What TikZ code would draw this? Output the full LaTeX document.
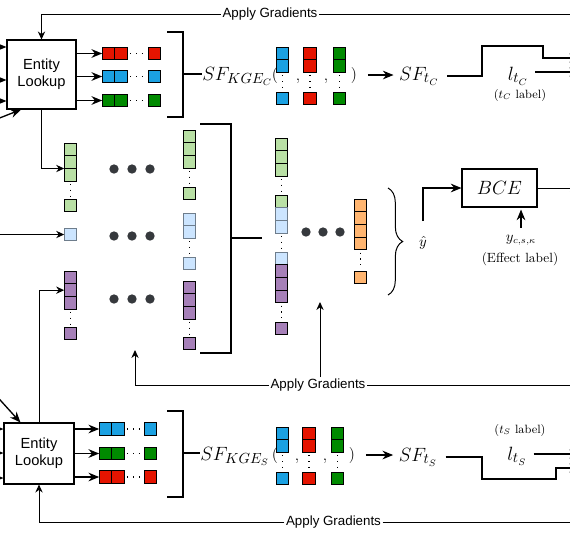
\documentclass[tikz,border=0pt]{standalone}
\usepackage{fontspec}
\newfontfamily\drawfont{Liberation Sans}
\usetikzlibrary{arrows.meta,positioning,decorations.pathreplacing}

\definecolor{kgred}{RGB}{229,20,0}
\definecolor{kgblue}{RGB}{27,161,226}
\definecolor{kggreen}{RGB}{0,138,0}
\definecolor{embgreen}{RGB}{185,224,165}
\definecolor{embblue}{RGB}{204,229,255}
\definecolor{embblueline}{RGB}{110,125,140}
\definecolor{embpurple}{RGB}{166,128,184}
\definecolor{outorange}{RGB}{255,181,112}
\definecolor{balldark}{RGB}{54,57,61}

\tikzset{
  cell/.style={draw=black, line width=0.8pt, inner sep=0pt, outer sep=0pt, minimum size=9.5pt},
  lookup/.style={draw, line width=0.8pt, align=center, font=\drawfont\fontsize{11}{13}\selectfont},
  gradtext/.style={font=\drawfont\fontsize{10}{12}\selectfont, inner sep=1pt},
  bigmath/.style={font=\fontsize{15}{18}\selectfont, inner sep=0pt},
  paren/.style={font=\fontsize{12}{14}\selectfont, inner sep=0pt, anchor=base},
  smalltext/.style={font=\fontsize{9}{11}\selectfont, inner sep=0pt},
  bracket/.style={line width=2pt},
  flow/.style={line width=1pt, -{Stealth[length=8pt,width=6.5pt]}},
  back/.style={line width=0.75pt, -{Stealth[length=6pt,width=5.5pt]}},
  gradline/.style={line width=0.75pt},
  gapdots/.style={line width=0.9pt, dash pattern=on 0.9pt off 3.5pt},
}

\begin{document}
\begin{tikzpicture}[x=0.75pt, y=-0.75pt]
\useasboundingbox (0,0) rectangle (570,536);

% entity lookup for C
\node [lookup, minimum width=51.75pt, minimum height=51.75pt] (lookC) at (41.5,74.5) {Entity\\Lookup};
\coordinate (inC1) at (-10,47);
\coordinate (inC2) at (-10,80);
\coordinate (inC3) at (-10,101);
\coordinate (inC4) at (-8,121);
\draw [flow] (inC1) -- (inC1 -| lookC.west);
\draw [flow] (inC2) -- (inC2 -| lookC.west);
\draw [flow] (inC3) -- (inC3 -| lookC.west);
\draw [flow] (inC4) -- ([xshift=11pt]lookC.south west);

\node [cell, fill=kgred] (rC1) at (108.5,53.5) {};
\node [cell, fill=kgred, right=0pt of rC1] (rC2) {};
\node [cell, fill=kgred] (rC3) at (154.5,53.5) {};
\node [cell, fill=kgblue] (bC1) at (108.5,76.5) {};
\node [cell, fill=kgblue, right=0pt of bC1] (bC2) {};
\node [cell, fill=kgblue] (bC3) at (154.5,76.5) {};
\node [cell, fill=kggreen] (gC1) at (108.5,100.5) {};
\node [cell, fill=kggreen, right=0pt of gC1] (gC2) {};
\node [cell, fill=kggreen] (gC3) at (154.5,100.5) {};
\draw [gapdots] ([xshift=2pt]rC2.east) -- ([xshift=-2pt]rC3.west);
\draw [gapdots] ([xshift=2pt]bC2.east) -- ([xshift=-2pt]bC3.west);
\draw [gapdots] ([xshift=2pt]gC2.east) -- ([xshift=-2pt]gC3.west);
\draw [flow] (lookC.east |- rC1) -- (rC1.west);
\draw [flow] (lookC.east |- bC1) -- (bC1.west);
\draw [flow] (lookC.east |- gC1) -- (gC1.west);

\draw [bracket] (167,32) -- (183,32) -- (183,117) -- (167,117);
\coordinate (brC) at (183,74);
\node [bigmath, anchor=base west] (sfkgeC) at (202,80) {$SF_{KGE_C}$};
\draw [bracket] (brC) -- (sfkgeC.west |- brC);

\node [paren] (openC) at (275,79) {(};
\node [cell, fill=kgblue] (kbC1) at (282.5,53.5) {};
\node [cell, fill=kgblue, below=0pt of kbC1] (kbC2) {};
\node [cell, fill=kgblue] (kbC3) at (282.5,98.5) {};
\node [paren] (commaC1) at (298,80) {,};
\node [cell, fill=kgred] (krC1) at (310,53.5) {};
\node [cell, fill=kgred, below=0pt of krC1] (krC2) {};
\node [cell, fill=kgred] (krC3) at (310,98.5) {};
\node [paren] (commaC2) at (326,80) {,};
\node [cell, fill=kggreen] (kgC1) at (339.5,53.5) {};
\node [cell, fill=kggreen, below=0pt of kgC1] (kgC2) {};
\node [cell, fill=kggreen] (kgC3) at (339.5,98.5) {};
\node [paren] (closeC) at (354,79) {)};
\draw [gapdots] ([yshift=-2pt]kbC2.south) -- ([yshift=2pt]kbC3.north);
\draw [gapdots] ([yshift=-2pt]krC2.south) -- ([yshift=2pt]krC3.north);
\draw [gapdots] ([yshift=-2pt]kgC2.south) -- ([yshift=2pt]kgC3.north);

\node [bigmath, anchor=base] (sftC) at (419,80) {$SF_{t_C}$};
\draw [flow, shorten <=8pt, shorten >=4pt] (closeC.east) -- (closeC.east -| sftC.west);
\coordinate (outC1) at (580,58);
\coordinate (outC2) at (580,72);
\draw [flow, shorten <=6pt] (sftC.east) -| (482,46) -| (543,58) -- (outC1);
\node [bigmath, anchor=base] (ltC) at (518,80) {$l_{t_C}$};
\draw [flow] ([xshift=5pt]ltC.east |- outC2) -- (outC2);
\node [smalltext] (labC) at (520,95) {($t_C$ label)};

\node [gradtext] (gradC) at (270,14) {Apply Gradients};
\coordinate (gradCend) at (580,14);
\draw [gradline] (gradC.east) -- (gradCend);
\draw [back] (gradC.west) -| (lookC.north);

% embedding columns
\node [cell, fill=embgreen] (gA1) at (70.5,149.5) {};
\node [cell, fill=embgreen, below=0pt of gA1] (gA2) {};
\node [cell, fill=embgreen, below=0pt of gA2] (gA3) {};
\node [cell, fill=embgreen] (gA4) at (70.5,205.5) {};
\draw [gapdots] ([yshift=-2pt]gA3.south) -- ([yshift=2pt]gA4.north);
\node [cell, draw=embblueline, fill=embblue] (lA1) at (70.5,234.5) {};
\node [cell, fill=embpurple] (pA1) at (70.5,277.5) {};
\node [cell, fill=embpurple, below=0pt of pA1] (pA2) {};
\node [cell, fill=embpurple, below=0pt of pA2] (pA3) {};
\node [cell, fill=embpurple] (pA4) at (70.5,333.5) {};
\draw [gapdots] ([yshift=-2pt]pA3.south) -- ([yshift=2pt]pA4.north);
\coordinate (inM) at (-10,234.5);
\draw [back] (inM) -- (lA1.west);
\draw [back] (lookC.south) |- (gA2.south west);

\fill [balldark] (114,169) circle (3.5pt);
\fill [balldark] (132,169) circle (3.5pt);
\fill [balldark] (150,169) circle (3.5pt);
\fill [balldark] (114,236) circle (3.5pt);
\fill [balldark] (132,236) circle (3.5pt);
\fill [balldark] (150,236) circle (3.5pt);
\fill [balldark] (114,299) circle (3.5pt);
\fill [balldark] (132,299) circle (3.5pt);
\fill [balldark] (150,299) circle (3.5pt);

\node [cell, fill=embgreen] (gB1) at (189.5,136.5) {};
\node [cell, fill=embgreen, below=0pt of gB1] (gB2) {};
\node [cell, fill=embgreen, below=0pt of gB2] (gB3) {};
\node [cell, fill=embgreen] (gB4) at (189.5,193.5) {};
\draw [gapdots] ([yshift=-2pt]gB3.south) -- ([yshift=2pt]gB4.north);
\node [cell, draw=embblueline, fill=embblue] (lB1) at (189.5,219.5) {};
\node [cell, draw=embblueline, fill=embblue, below=0pt of lB1] (lB2) {};
\node [cell, draw=embblueline, fill=embblue] (lB3) at (189.5,263.5) {};
\draw [gapdots] ([yshift=-2pt]lB2.south) -- ([yshift=2pt]lB3.north);
\node [cell, fill=embpurple] (pB1) at (189.5,287.5) {};
\node [cell, fill=embpurple, below=0pt of pB1] (pB2) {};
\node [cell, fill=embpurple, below=0pt of pB2] (pB3) {};
\node [cell, fill=embpurple] (pB4) at (189.5,343.5) {};
\draw [gapdots] ([yshift=-2pt]pB3.south) -- ([yshift=2pt]pB4.north);

\draw [bracket] (200,124) -- (231,124) -- (231,353) -- (200,353);
\coordinate (brM) at (231,238);
\coordinate (brMend) at (262,238);
\draw [bracket] (brM) -- (brMend);

% concatenated vector and output
\node [cell, fill=embgreen] (gT1) at (281.5,144.5) {};
\node [cell, fill=embgreen, below=0pt of gT1] (gT2) {};
\node [cell, fill=embgreen, below=0pt of gT2] (gT3) {};
\node [cell, fill=embgreen] (gT4) at (281.5,201.5) {};
\node [cell, draw=embblueline, fill=embblue, below=0pt of gT4] (lT1) {};
\node [cell, draw=embblueline, fill=embblue, below=0pt of lT1] (lT2) {};
\node [cell, draw=embblueline, fill=embblue] (lT3) at (281.5,258.5) {};
\node [cell, fill=embpurple, below=0pt of lT3] (pT1) {};
\node [cell, fill=embpurple, below=0pt of pT1] (pT2) {};
\node [cell, fill=embpurple, below=0pt of pT2] (pT3) {};
\node [cell, fill=embpurple] (pT4) at (281.5,328.5) {};
\draw [gapdots] ([yshift=-2pt]gT3.south) -- ([yshift=2pt]gT4.north);
\draw [gapdots] ([yshift=-2pt]lT2.south) -- ([yshift=2pt]lT3.north);
\draw [gapdots] ([yshift=-2pt]pT3.south) -- ([yshift=2pt]pT4.north);

\fill [balldark] (306,232) circle (3.5pt);
\fill [balldark] (323,232) circle (3.5pt);
\fill [balldark] (340,232) circle (3.5pt);

\node [cell, fill=outorange] (oT1) at (360.5,205.5) {};
\node [cell, fill=outorange, below=0pt of oT1] (oT2) {};
\node [cell, fill=outorange, below=0pt of oT2] (oT3) {};
\node [cell, fill=outorange, below=0pt of oT3] (oT4) {};
\node [cell, fill=outorange] (oT5) at (360.5,277.5) {};
\draw [gapdots] ([yshift=-2pt]oT4.south) -- ([yshift=2pt]oT5.north);

\draw [decorate, decoration={brace, amplitude=11pt}, line width=0.75pt] (388,188) -- (388,295);
\node [font=\fontsize{11}{13}\selectfont] (yhat) at (423,243) {$\hat{y}$};
\node [draw, line width=0.8pt, minimum width=56.25pt, minimum height=28.5pt, font=\fontsize{14}{17}\selectfont] (bce) at (499.5,188) {$BCE$};
\draw [flow] ([yshift=8pt]yhat.north) |- (bce.west);
\coordinate (bceOut) at (578,188);
\draw [back] (bce.east) -- (bceOut);
\node [font=\fontsize{10.5}{12}\selectfont, inner sep=0pt] (ycsk) at (521,240) {$y_{c,s,\kappa}$};
\node [font=\fontsize{10}{12}\selectfont, inner sep=0pt] (effect) at (520,259) {(Effect label)};
\draw [flow, shorten <=5pt, shorten >=1.5pt] (ycsk.north) -- (ycsk.north |- bce.south);

\node [gradtext] (gradM) at (318,385) {Apply Gradients};
\coordinate (gradMend) at (580,385);
\coordinate (embUp) at (135,350);
\coordinate (mixUp) at (320,302);
\draw [gradline] (gradM.east) -- (gradMend);
\draw [back] (gradM.west) -| (embUp);
\draw [back] (gradM.north -| mixUp) -- (mixUp);

% entity lookup for S
\node [lookup, minimum width=52.5pt, minimum height=45.75pt] (lookS) at (39,453.5) {Entity\\Lookup};
\coordinate (inS1) at (-10,429);
\coordinate (inS2) at (-10,453);
\coordinate (inS3) at (-10,478);
\coordinate (inS4) at (-8,391);
\draw [flow] (inS1) -- (inS1 -| lookS.west);
\draw [flow] (inS2) -- (inS2 -| lookS.west);
\draw [flow] (inS3) -- (inS3 -| lookS.west);
\draw [flow] (inS4) -- ([xshift=12.75pt]lookS.north west);
\draw [back] (lookS.north) |- (pA2.west);

\node [cell, fill=kgblue] (bS1) at (105.5,429) {};
\node [cell, fill=kgblue, right=0pt of bS1] (bS2) {};
\node [cell, fill=kgblue] (bS3) at (150.5,429) {};
\node [cell, fill=kggreen] (gS1) at (105.5,453.5) {};
\node [cell, fill=kggreen, right=0pt of gS1] (gS2) {};
\node [cell, fill=kggreen] (gS3) at (150.5,453.5) {};
\node [cell, fill=kgred] (rS1) at (105.5,477) {};
\node [cell, fill=kgred, right=0pt of rS1] (rS2) {};
\node [cell, fill=kgred] (rS3) at (150.5,477) {};
\draw [gapdots] ([xshift=2pt]bS2.east) -- ([xshift=-2pt]bS3.west);
\draw [gapdots] ([xshift=2pt]gS2.east) -- ([xshift=-2pt]gS3.west);
\draw [gapdots] ([xshift=2pt]rS2.east) -- ([xshift=-2pt]rS3.west);
\draw [flow] (lookS.east |- bS1) -- (bS1.west);
\draw [flow] (lookS.east |- gS1) -- (gS1.west);
\draw [flow] (lookS.east |- rS1) -- (rS1.west);

\draw [bracket] (167,411) -- (183,411) -- (183,497) -- (167,497);
\coordinate (brS) at (183,453);
\node [bigmath, anchor=base west] (sfkgeS) at (200,460) {$SF_{KGE_S}$};
\draw [bracket] (brS) -- (sfkgeS.west |- brS);

\node [paren] (openS) at (275,459) {(};
\node [cell, fill=kgblue] (kbS1) at (282.5,433.5) {};
\node [cell, fill=kgblue, below=0pt of kbS1] (kbS2) {};
\node [cell, fill=kgblue] (kbS3) at (282.5,478.5) {};
\node [paren] (commaS1) at (297,460) {,};
\node [cell, fill=kgred] (krS1) at (309,433.5) {};
\node [cell, fill=kgred, below=0pt of krS1] (krS2) {};
\node [cell, fill=kgred] (krS3) at (309,478.5) {};
\node [paren] (commaS2) at (325,460) {,};
\node [cell, fill=kggreen] (kgS1) at (337.5,433.5) {};
\node [cell, fill=kggreen, below=0pt of kgS1] (kgS2) {};
\node [cell, fill=kggreen] (kgS3) at (337.5,478.5) {};
\node [paren] (closeS) at (352,459) {)};
\draw [gapdots] ([yshift=-2pt]kbS2.south) -- ([yshift=2pt]kbS3.north);
\draw [gapdots] ([yshift=-2pt]krS2.south) -- ([yshift=2pt]krS3.north);
\draw [gapdots] ([yshift=-2pt]kgS2.south) -- ([yshift=2pt]kgS3.north);

\node [bigmath, anchor=base] (sftS) at (418,461) {$SF_{t_S}$};
\draw [flow, shorten <=8pt, shorten >=4pt] (closeS.east) -- (closeS.east -| sftS.west);
\coordinate (outS1) at (580,454);
\coordinate (outS2) at (580,468);
\draw [flow, shorten <=6pt] (sftS.east) -| (482,479) -| (556,468) -- (outS2);
\node [bigmath, anchor=base] (ltS) at (517,460) {$l_{t_S}$};
\draw [flow] ([xshift=5pt]ltS.east |- outS1) -- (outS1);
\node [smalltext] (labS) at (520,430) {($t_S$ label)};

\node [gradtext] (gradS) at (333.5,522) {Apply Gradients};
\coordinate (gradSend) at (580,522);
\draw [gradline] (gradS.east) -- (gradSend);
\draw [back] (gradS.west) -| (lookS.south);
\end{tikzpicture}
\end{document}
